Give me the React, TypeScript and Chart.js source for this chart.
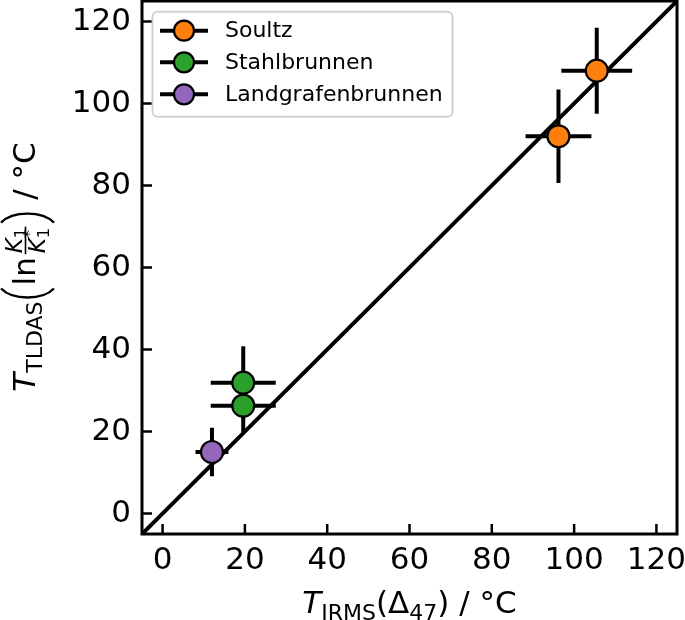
import React, { useEffect, useRef } from 'react';
import { Chart, registerables } from 'chart.js';

Chart.register(...registerables);

const FONT = '"DejaVu Sans", sans-serif';

const seriesNames = ['Soultz', 'Stahlbrunnen', 'Landgrafenbrunnen'];
const seriesColors = ['#ff7f0e', '#2ca02c', '#9467bd'];

const soultzX = [96.2, 105.5];
const soultzY = [92.0, 108.0];
const soultzXErr = [8.0, 8.6];
const soultzYErr = [11.4, 10.5];

const stahlX = [19.6, 19.6];
const stahlY = [31.9, 26.3];
const stahlXErr = [7.9, 7.9];
const stahlYErr = [8.9, 6.6];

const landX = [12.0];
const landY = [15.0];
const landXErr = [4.0];
const landYErr = [5.9];

const diagonal = [-5, 125];
const axisMin = -5;
const axisMax = 125;
const xTicks = [0, 20, 40, 60, 80, 100, 120];
const yTicks = [0, 20, 40, 60, 80, 100, 120];

type Piece = { t: string; size: number; italic?: boolean; dy?: number; back?: boolean };

function fontOf(p: Piece) {
  return `${p.italic ? 'italic ' : ''}${p.size}px ${FONT}`;
}

function layoutPieces(ctx: CanvasRenderingContext2D, pieces: Piece[]) {
  let cursor = 0;
  let prevStart = 0;
  let prevEnd = 0;
  const pos: number[] = [];
  pieces.forEach((p) => {
    ctx.font = fontOf(p);
    const w = ctx.measureText(p.t).width;
    if (p.back) {
      pos.push(prevStart);
      cursor = Math.max(prevEnd, prevStart + w);
      prevEnd = cursor;
    } else {
      pos.push(cursor);
      prevStart = cursor;
      cursor += w;
      prevEnd = cursor;
    }
  });
  return { pos, width: cursor };
}

function drawPieces(ctx: CanvasRenderingContext2D, pieces: Piece[], x: number, y: number) {
  const { pos, width } = layoutPieces(ctx, pieces);
  ctx.textBaseline = 'alphabetic';
  ctx.textAlign = 'left';
  pieces.forEach((p, i) => {
    ctx.font = fontOf(p);
    ctx.fillText(p.t, x + pos[i], y + (p.dy || 0));
  });
  return width;
}

const F = 31;
const S = 22;

const xLabelPieces: Piece[] = [
  { t: 'T', size: F, italic: true },
  { t: 'IRMS', size: S, dy: 7 },
  { t: '(', size: F },
  { t: '\u0394', size: F },
  { t: '47', size: S, dy: 7 },
  { t: ')', size: F },
  { t: ' / \u00b0C', size: F },
];

const errorBarPlugin = {
  id: 'errbars',
  beforeDatasetsDraw(chart: any) {
    const { ctx, scales } = chart;
    const x = scales.x;
    const y = scales.y;
    ctx.save();
    ctx.strokeStyle = '#000';
    ctx.lineWidth = 4;
    ctx.lineCap = 'butt';
    chart.data.datasets.forEach((ds: any) => {
      if (!ds.xErr) return;
      ds.data.forEach((p: any, i: number) => {
        const px = x.getPixelForValue(p.x);
        const py = y.getPixelForValue(p.y);
        ctx.beginPath();
        ctx.moveTo(x.getPixelForValue(p.x - ds.xErr[i]), py);
        ctx.lineTo(x.getPixelForValue(p.x + ds.xErr[i]), py);
        ctx.moveTo(px, y.getPixelForValue(p.y - ds.yErr[i]));
        ctx.lineTo(px, y.getPixelForValue(p.y + ds.yErr[i]));
        ctx.stroke();
      });
    });
    ctx.restore();
  },
};

function paren(ctx: CanvasRenderingContext2D, x0: number, w: number, yTop: number, yBot: number, open: boolean) {
  const outer = open ? x0 + w - 3 : x0 + 3;
  const inner = open ? x0 + 1 : x0 + w - 1;
  const h = yBot - yTop;
  ctx.beginPath();
  ctx.moveTo(outer, yTop);
  ctx.bezierCurveTo(inner, yTop + h * 0.22, inner, yBot - h * 0.22, outer, yBot);
  ctx.stroke();
}

const decorPlugin = {
  id: 'decor',
  afterDraw(chart: any) {
    const { ctx, chartArea, scales } = chart;
    const x = scales.x;
    const y = scales.y;
    const { left, right, top, bottom } = chartArea;
    ctx.save();
    // ticks inward
    ctx.strokeStyle = '#000';
    ctx.lineWidth = 2.5;
    ctx.beginPath();
    xTicks.forEach((v) => {
      const px = x.getPixelForValue(v);
      ctx.moveTo(px, bottom);
      ctx.lineTo(px, bottom - 10);
    });
    yTicks.forEach((v) => {
      const py = y.getPixelForValue(v);
      ctx.moveTo(left, py);
      ctx.lineTo(left + 10, py);
    });
    ctx.stroke();
    // frame
    ctx.lineWidth = 3;
    ctx.strokeRect(left, top, right - left, bottom - top);

    // legend
    const lx = 152.5, ly = 11.7, lw = 300, lh = 105;
    ctx.beginPath();
    const r = 5;
    ctx.moveTo(lx + r, ly);
    ctx.arcTo(lx + lw, ly, lx + lw, ly + lh, r);
    ctx.arcTo(lx + lw, ly + lh, lx, ly + lh, r);
    ctx.arcTo(lx, ly + lh, lx, ly, r);
    ctx.arcTo(lx, ly, lx + lw, ly, r);
    ctx.closePath();
    ctx.fillStyle = 'rgba(255,255,255,0.8)';
    ctx.fill();
    ctx.strokeStyle = 'rgba(204,204,204,0.9)';
    ctx.lineWidth = 2;
    ctx.stroke();
    const rows = [30.7, 62.3, 94.3];
    seriesNames.forEach((name, i) => {
      const ry = rows[i];
      ctx.strokeStyle = '#000';
      ctx.lineWidth = 4;
      ctx.beginPath();
      ctx.moveTo(160, ry);
      ctx.lineTo(208, ry);
      ctx.stroke();
      ctx.beginPath();
      ctx.arc(184, ry, 10, 0, Math.PI * 2);
      ctx.fillStyle = seriesColors[i];
      ctx.fill();
      ctx.lineWidth = 2.2;
      ctx.stroke();
      ctx.fillStyle = '#000';
      ctx.font = `22px ${FONT}`;
      ctx.textAlign = 'left';
      ctx.textBaseline = 'middle';
      ctx.fillText(name, 225, ry + 1);
    });

    // x label
    ctx.fillStyle = '#000';
    const { width: xw } = layoutPieces(ctx, xLabelPieces);
    drawPieces(ctx, xLabelPieces, (left + right) / 2 - xw / 2, 613);

    // y label (rotated)
    const before: Piece[] = [
      { t: 'T', size: F, italic: true },
      { t: 'TLDAS', size: S, dy: 7 },
    ];
    const lnP: Piece[] = [{ t: 'ln', size: F }];
    const after: Piece[] = [{ t: ' / \u00b0C', size: F }];
    const fs = 23;
    const ss = 16.5;
    const num: Piece[] = [
      { t: 'K', size: fs, italic: true },
      { t: '1', size: ss, dy: 4 },
    ];
    const den: Piece[] = [
      { t: 'K', size: fs, italic: true },
      { t: '1', size: ss, dy: 4 },
      { t: '*', size: ss, dy: -10, back: true },
    ];
    const pw = 16;
    const wb = layoutPieces(ctx, before).width;
    const wl = layoutPieces(ctx, lnP).width;
    const wa = layoutPieces(ctx, after).width;
    const wn = layoutPieces(ctx, num).width;
    const wd = layoutPieces(ctx, den).width;
    const wf = Math.max(wn, wd) + 4;
    const total = wb + pw + wl + 2 + wf + pw + wa;
    ctx.save();
    ctx.translate(35, 267);
    ctx.rotate(-Math.PI / 2);
    let cx = -total / 2;
    drawPieces(ctx, before, cx, 0);
    cx += wb;
    ctx.strokeStyle = '#000';
    ctx.lineWidth = 2.4;
    paren(ctx, cx, pw, -34, 19, true);
    cx += pw;
    drawPieces(ctx, lnP, cx, 0);
    cx += wl + 2;
    const axisY = -9.5;
    ctx.fillRect(cx + 1, axisY - 0.8, wf - 2, 1.6);
    drawPieces(ctx, num, cx + (wf - wn) / 2, axisY - 3.5);
    drawPieces(ctx, den, cx + (wf - wd) / 2, axisY + 3 + 0.73 * fs);
    cx += wf;
    paren(ctx, cx, pw, -34, 19, false);
    cx += pw;
    drawPieces(ctx, after, cx, 0);
    ctx.restore();

    ctx.restore();
  },
};

export default function App() {
  const ref = useRef<HTMLCanvasElement | null>(null);
  useEffect(() => {
    if (!ref.current) return;
    const mk = (name: string, color: string, xs: number[], ys: number[], xe: number[], ye: number[]) => ({
      type: 'scatter' as const,
      label: name,
      data: xs.map((v, i) => ({ x: v, y: ys[i] })),
      xErr: xe,
      yErr: ye,
      backgroundColor: color,
      borderColor: '#000',
      borderWidth: 2.2,
      pointRadius: 11,
      pointHoverRadius: 11,
      order: 1,
    });
    const chart = new Chart(ref.current, {
      type: 'scatter',
      data: {
        datasets: [
          {
            type: 'line',
            label: 'diag',
            data: diagonal.map((v) => ({ x: v, y: v })),
            borderColor: '#000',
            borderWidth: 4,
            pointRadius: 0,
            fill: false,
            order: 5,
          } as any,
          mk(seriesNames[0], seriesColors[0], soultzX, soultzY, soultzXErr, soultzYErr),
          mk(seriesNames[1], seriesColors[1], stahlX, stahlY, stahlXErr, stahlYErr),
          mk(seriesNames[2], seriesColors[2], landX, landY, landXErr, landYErr),
        ],
      },
      options: {
        animation: false,
        responsive: true,
        maintainAspectRatio: false,
        devicePixelRatio: 1,
        layout: { autoPadding: false, padding: { top: 1, right: 8, left: 0, bottom: 0 } },
        plugins: { legend: { display: false }, tooltip: { enabled: false } },
        events: [],
        scales: {
          x: {
            type: 'linear',
            min: axisMin,
            max: axisMax,
            grid: { display: false, drawTicks: false },
            border: { display: false },
            ticks: {
              color: '#000',
              font: { size: 31, family: FONT },
              padding: 8,
              autoSkip: false,
              maxRotation: 0,
            },
            afterBuildTicks: (s: any) => {
              s.ticks = xTicks.map((v) => ({ value: v }));
            },
            afterFit: (s: any) => {
              s.height = 86;
              s.paddingLeft = 0;
              s.paddingRight = 0;
            },
          },
          y: {
            type: 'linear',
            min: axisMin,
            max: axisMax,
            grid: { display: false, drawTicks: false },
            border: { display: false },
            ticks: {
              color: '#000',
              font: { size: 31, family: FONT },
              padding: 11,
              autoSkip: false,
            },
            afterBuildTicks: (s: any) => {
              s.ticks = yTicks.map((v) => ({ value: v }));
            },
            afterFit: (s: any) => {
              s.width = 142;
              s.paddingTop = 0;
              s.paddingBottom = 0;
            },
          },
        },
      },
      plugins: [errorBarPlugin, decorPlugin],
    } as any);
    return () => chart.destroy();
  }, []);
  return (
    <div style={{ position: 'absolute', left: 0, top: 0, width: 685, height: 620, background: '#fff' }}>
      <canvas ref={ref} />
    </div>
  );
}
